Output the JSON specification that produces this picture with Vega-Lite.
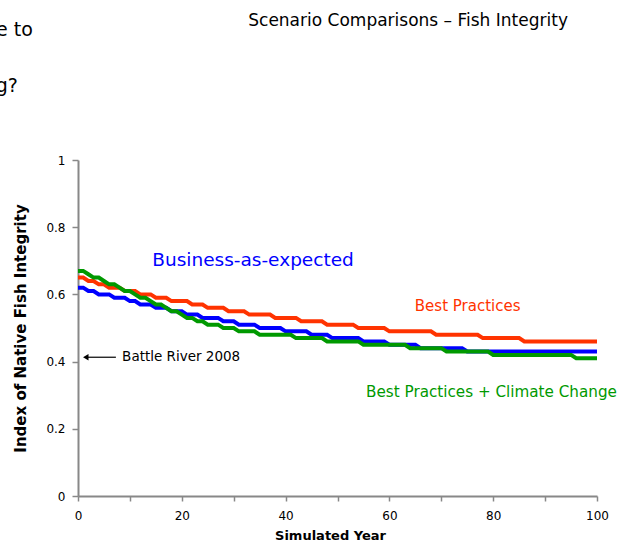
{
  "$schema": "https://vega.github.io/schema/vega-lite/v6.json",
  "width": 519,
  "height": 336,
  "autosize": {"type": "none"},
  "padding": {"left": 78, "top": 160, "right": 21, "bottom": 51},
  "background": "white",
  "config": {"view": {"stroke": null}, "font": "DejaVu Sans"},
  "datasets": {
    "lines": [
      {"series": "Best Practices", "year": 0, "value": 0.65}, {"series": "Best Practices", "year": 1, "value": 0.65},
      {"series": "Best Practices", "year": 2, "value": 0.64}, {"series": "Best Practices", "year": 3, "value": 0.64},
      {"series": "Best Practices", "year": 4, "value": 0.63}, {"series": "Best Practices", "year": 5, "value": 0.63},
      {"series": "Best Practices", "year": 6, "value": 0.62}, {"series": "Best Practices", "year": 8, "value": 0.62},
      {"series": "Best Practices", "year": 9, "value": 0.61}, {"series": "Best Practices", "year": 11, "value": 0.61},
      {"series": "Best Practices", "year": 12, "value": 0.60}, {"series": "Best Practices", "year": 14, "value": 0.60},
      {"series": "Best Practices", "year": 15, "value": 0.59}, {"series": "Best Practices", "year": 17, "value": 0.59},
      {"series": "Best Practices", "year": 18, "value": 0.58}, {"series": "Best Practices", "year": 21, "value": 0.58},
      {"series": "Best Practices", "year": 22, "value": 0.57}, {"series": "Best Practices", "year": 24, "value": 0.57},
      {"series": "Best Practices", "year": 25, "value": 0.56}, {"series": "Best Practices", "year": 28, "value": 0.56},
      {"series": "Best Practices", "year": 29, "value": 0.55}, {"series": "Best Practices", "year": 32, "value": 0.55},
      {"series": "Best Practices", "year": 33, "value": 0.54}, {"series": "Best Practices", "year": 37, "value": 0.54},
      {"series": "Best Practices", "year": 38, "value": 0.53}, {"series": "Best Practices", "year": 42, "value": 0.53},
      {"series": "Best Practices", "year": 43, "value": 0.52}, {"series": "Best Practices", "year": 47, "value": 0.52},
      {"series": "Best Practices", "year": 48, "value": 0.51}, {"series": "Best Practices", "year": 53, "value": 0.51},
      {"series": "Best Practices", "year": 54, "value": 0.50}, {"series": "Best Practices", "year": 59, "value": 0.50},
      {"series": "Best Practices", "year": 60, "value": 0.49}, {"series": "Best Practices", "year": 68, "value": 0.49},
      {"series": "Best Practices", "year": 69, "value": 0.48}, {"series": "Best Practices", "year": 77, "value": 0.48},
      {"series": "Best Practices", "year": 78, "value": 0.47}, {"series": "Best Practices", "year": 85, "value": 0.47},
      {"series": "Best Practices", "year": 86, "value": 0.46}, {"series": "Best Practices", "year": 100, "value": 0.46},

      {"series": "Business-as-expected", "year": 0, "value": 0.62}, {"series": "Business-as-expected", "year": 1, "value": 0.62},
      {"series": "Business-as-expected", "year": 2, "value": 0.61}, {"series": "Business-as-expected", "year": 3, "value": 0.61},
      {"series": "Business-as-expected", "year": 4, "value": 0.60}, {"series": "Business-as-expected", "year": 6, "value": 0.60},
      {"series": "Business-as-expected", "year": 7, "value": 0.59}, {"series": "Business-as-expected", "year": 9, "value": 0.59},
      {"series": "Business-as-expected", "year": 10, "value": 0.58}, {"series": "Business-as-expected", "year": 11, "value": 0.58},
      {"series": "Business-as-expected", "year": 12, "value": 0.57}, {"series": "Business-as-expected", "year": 14, "value": 0.57},
      {"series": "Business-as-expected", "year": 15, "value": 0.56}, {"series": "Business-as-expected", "year": 17, "value": 0.56},
      {"series": "Business-as-expected", "year": 18, "value": 0.55}, {"series": "Business-as-expected", "year": 20, "value": 0.55},
      {"series": "Business-as-expected", "year": 21, "value": 0.54}, {"series": "Business-as-expected", "year": 23, "value": 0.54},
      {"series": "Business-as-expected", "year": 24, "value": 0.53}, {"series": "Business-as-expected", "year": 27, "value": 0.53},
      {"series": "Business-as-expected", "year": 28, "value": 0.52}, {"series": "Business-as-expected", "year": 30, "value": 0.52},
      {"series": "Business-as-expected", "year": 31, "value": 0.51}, {"series": "Business-as-expected", "year": 34, "value": 0.51},
      {"series": "Business-as-expected", "year": 35, "value": 0.50}, {"series": "Business-as-expected", "year": 39, "value": 0.50},
      {"series": "Business-as-expected", "year": 40, "value": 0.49}, {"series": "Business-as-expected", "year": 44, "value": 0.49},
      {"series": "Business-as-expected", "year": 45, "value": 0.48}, {"series": "Business-as-expected", "year": 48, "value": 0.48},
      {"series": "Business-as-expected", "year": 49, "value": 0.47}, {"series": "Business-as-expected", "year": 54, "value": 0.47},
      {"series": "Business-as-expected", "year": 55, "value": 0.46}, {"series": "Business-as-expected", "year": 59, "value": 0.46},
      {"series": "Business-as-expected", "year": 60, "value": 0.45}, {"series": "Business-as-expected", "year": 65, "value": 0.45},
      {"series": "Business-as-expected", "year": 66, "value": 0.44}, {"series": "Business-as-expected", "year": 74, "value": 0.44},
      {"series": "Business-as-expected", "year": 75, "value": 0.43}, {"series": "Business-as-expected", "year": 100, "value": 0.43},

      {"series": "Best Practices + Climate Change", "year": 0, "value": 0.67}, {"series": "Best Practices + Climate Change", "year": 1, "value": 0.67},
      {"series": "Best Practices + Climate Change", "year": 2, "value": 0.66}, {"series": "Best Practices + Climate Change", "year": 3, "value": 0.65},
      {"series": "Best Practices + Climate Change", "year": 4, "value": 0.65}, {"series": "Best Practices + Climate Change", "year": 5, "value": 0.64},
      {"series": "Best Practices + Climate Change", "year": 6, "value": 0.63}, {"series": "Best Practices + Climate Change", "year": 7, "value": 0.63},
      {"series": "Best Practices + Climate Change", "year": 8, "value": 0.62}, {"series": "Best Practices + Climate Change", "year": 9, "value": 0.61},
      {"series": "Best Practices + Climate Change", "year": 10, "value": 0.61}, {"series": "Best Practices + Climate Change", "year": 11, "value": 0.60},
      {"series": "Best Practices + Climate Change", "year": 12, "value": 0.59}, {"series": "Best Practices + Climate Change", "year": 13, "value": 0.59},
      {"series": "Best Practices + Climate Change", "year": 14, "value": 0.58}, {"series": "Best Practices + Climate Change", "year": 15, "value": 0.57},
      {"series": "Best Practices + Climate Change", "year": 16, "value": 0.57}, {"series": "Best Practices + Climate Change", "year": 17, "value": 0.56},
      {"series": "Best Practices + Climate Change", "year": 18, "value": 0.55}, {"series": "Best Practices + Climate Change", "year": 19, "value": 0.55},
      {"series": "Best Practices + Climate Change", "year": 20, "value": 0.54}, {"series": "Best Practices + Climate Change", "year": 21, "value": 0.53},
      {"series": "Best Practices + Climate Change", "year": 22, "value": 0.53}, {"series": "Best Practices + Climate Change", "year": 23, "value": 0.52},
      {"series": "Best Practices + Climate Change", "year": 24, "value": 0.52}, {"series": "Best Practices + Climate Change", "year": 25, "value": 0.51},
      {"series": "Best Practices + Climate Change", "year": 27, "value": 0.51}, {"series": "Best Practices + Climate Change", "year": 28, "value": 0.50},
      {"series": "Best Practices + Climate Change", "year": 30, "value": 0.50}, {"series": "Best Practices + Climate Change", "year": 31, "value": 0.49},
      {"series": "Best Practices + Climate Change", "year": 34, "value": 0.49}, {"series": "Best Practices + Climate Change", "year": 35, "value": 0.48},
      {"series": "Best Practices + Climate Change", "year": 41, "value": 0.48}, {"series": "Best Practices + Climate Change", "year": 42, "value": 0.47},
      {"series": "Best Practices + Climate Change", "year": 47, "value": 0.47}, {"series": "Best Practices + Climate Change", "year": 48, "value": 0.46},
      {"series": "Best Practices + Climate Change", "year": 54, "value": 0.46}, {"series": "Best Practices + Climate Change", "year": 55, "value": 0.45},
      {"series": "Best Practices + Climate Change", "year": 63, "value": 0.45}, {"series": "Best Practices + Climate Change", "year": 64, "value": 0.44},
      {"series": "Best Practices + Climate Change", "year": 70, "value": 0.44}, {"series": "Best Practices + Climate Change", "year": 71, "value": 0.43},
      {"series": "Best Practices + Climate Change", "year": 79, "value": 0.43}, {"series": "Best Practices + Climate Change", "year": 80, "value": 0.42},
      {"series": "Best Practices + Climate Change", "year": 95, "value": 0.42}, {"series": "Best Practices + Climate Change", "year": 96, "value": 0.41},
      {"series": "Best Practices + Climate Change", "year": 100, "value": 0.41}
    ],
    "labels": [
      {"series": "Business-as-expected", "label": "Business-as-expected", "year": 14.3, "value": 0.702},
      {"series": "Best Practices", "label": "Best Practices", "year": 64.9, "value": 0.565},
      {"series": "Best Practices + Climate Change", "label": "Best Practices + Climate Change", "year": 55.5, "value": 0.31}
    ],
    "note": [
      {"label": "Battle River 2008", "year": 8.5, "year2": 1.5, "value": 0.413}
    ],
    "texts": [
      {"label": "Scenario Comparisons – Fish Integrity", "year": 63.6, "value": 1.4},
      {"label": "e to", "year": -8.7, "value": 1.387},
      {"label": "g?", "year": -11.6, "value": 1.22}
    ]
  },
  "layer": [
    {
      "data": {"name": "lines"},
      "mark": {"type": "line", "strokeWidth": 4, "strokeJoin": "miter", "strokeCap": "butt"},
      "encoding": {
        "x": {
          "field": "year", "type": "quantitative",
          "scale": {"domain": [0, 100], "nice": false, "zero": false},
          "axis": {
            "title": "Simulated Year", "titleFont": "DejaVu Sans", "titleFontSize": 13, "titleFontWeight": "bold", "titleColor": "#000000", "titlePadding": 8,
            "titleX": 252, "titleAlign": "center",
            "values": [0, 10, 20, 30, 40, 50, 60, 70, 80, 90, 100],
            "labelExpr": "datum.value % 20 == 0 ? datum.label : ''",
            "labelFont": "DejaVu Sans", "labelFontSize": 12, "labelColor": "#000000", "labelPadding": 9,
            "domainColor": "#888888", "domainWidth": 2, "tickColor": "#888888", "tickWidth": 1.5, "tickSize": 5,
            "grid": false, "labelFlush": false
          }
        },
        "y": {
          "field": "value", "type": "quantitative",
          "scale": {"domain": [0, 1], "nice": false, "zero": false},
          "axis": {
            "title": "Index of Native Fish Integrity", "titleFont": "DejaVu Sans", "titleFontSize": 15, "titleFontWeight": "bold", "titleColor": "#000000", "titlePadding": 17,
            "values": [0, 0.1, 0.2, 0.3, 0.4, 0.5, 0.6, 0.7, 0.8, 0.9, 1],
            "labelExpr": "round(datum.value * 10) % 2 == 0 ? format(datum.value, '~g') : ''",
            "labelFont": "DejaVu Sans", "labelFontSize": 12, "labelColor": "#000000", "labelPadding": 7,
            "domainColor": "#888888", "domainWidth": 2, "tickColor": "#888888", "tickWidth": 1.5, "tickSize": 6,
            "grid": false, "labelFlush": false
          }
        },
        "color": {
          "field": "series", "type": "nominal",
          "scale": {"domain": ["Best Practices", "Business-as-expected", "Best Practices + Climate Change"], "range": ["#FF3300", "#0000FF", "#009900"]},
          "legend": null
        }
      }
    },
    {
      "data": {"name": "labels"},
      "transform": [{"filter": "datum.label == 'Business-as-expected'"}],
      "mark": {"type": "text", "align": "left", "baseline": "middle", "fontSize": 18.5, "font": "DejaVu Sans"},
      "encoding": {
        "x": {"field": "year", "type": "quantitative"},
        "y": {"field": "value", "type": "quantitative"},
        "text": {"field": "label"},
        "color": {"field": "series", "type": "nominal", "legend": null}
      }
    },
    {
      "data": {"name": "labels"},
      "transform": [{"filter": "datum.label == 'Best Practices'"}],
      "mark": {"type": "text", "align": "left", "baseline": "middle", "fontSize": 15, "font": "DejaVu Sans"},
      "encoding": {
        "x": {"field": "year", "type": "quantitative"},
        "y": {"field": "value", "type": "quantitative"},
        "text": {"field": "label"},
        "color": {"field": "series", "type": "nominal", "legend": null}
      }
    },
    {
      "data": {"name": "labels"},
      "transform": [{"filter": "datum.label == 'Best Practices + Climate Change'"}],
      "mark": {"type": "text", "align": "left", "baseline": "middle", "fontSize": 15.2, "font": "DejaVu Sans"},
      "encoding": {
        "x": {"field": "year", "type": "quantitative"},
        "y": {"field": "value", "type": "quantitative"},
        "text": {"field": "label"},
        "color": {"field": "series", "type": "nominal", "legend": null}
      }
    },
    {
      "data": {"name": "note"},
      "transform": [{"calculate": "datum.year - 1.2", "as": "lineEnd"}],
      "mark": {"type": "rule", "color": "#000000", "strokeWidth": 1.2},
      "encoding": {
        "x": {"field": "year2", "type": "quantitative"},
        "x2": {"field": "lineEnd"},
        "y": {"field": "value", "type": "quantitative"}
      }
    },
    {
      "data": {"name": "note"},
      "mark": {"type": "point", "shape": "triangle-left", "filled": true, "color": "#000000", "size": 40, "opacity": 1},
      "encoding": {
        "x": {"field": "year2", "type": "quantitative"},
        "y": {"field": "value", "type": "quantitative"}
      }
    },
    {
      "data": {"name": "note"},
      "mark": {"type": "text", "align": "left", "baseline": "middle", "fontSize": 13.5, "font": "DejaVu Sans", "color": "#000000"},
      "encoding": {
        "x": {"field": "year", "type": "quantitative"},
        "y": {"field": "value", "type": "quantitative"},
        "text": {"field": "label"}
      }
    },
    {
      "data": {"name": "texts"},
      "transform": [{"filter": "datum.label != 'Scenario Comparisons – Fish Integrity'"}],
      "mark": {"type": "text", "align": "right", "baseline": "middle", "fontSize": 19, "font": "DejaVu Sans", "color": "#000000"},
      "encoding": {
        "x": {"field": "year", "type": "quantitative"},
        "y": {"field": "value", "type": "quantitative"},
        "text": {"field": "label"}
      }
    },
    {
      "data": {"name": "texts"},
      "transform": [{"filter": "datum.label == 'Scenario Comparisons – Fish Integrity'"}],
      "mark": {"type": "text", "align": "center", "baseline": "alphabetic", "fontSize": 17, "font": "DejaVu Sans", "color": "#000000"},
      "encoding": {
        "x": {"field": "year", "type": "quantitative"},
        "y": {"field": "value", "type": "quantitative"},
        "text": {"field": "label"}
      }
    }
  ]
}
